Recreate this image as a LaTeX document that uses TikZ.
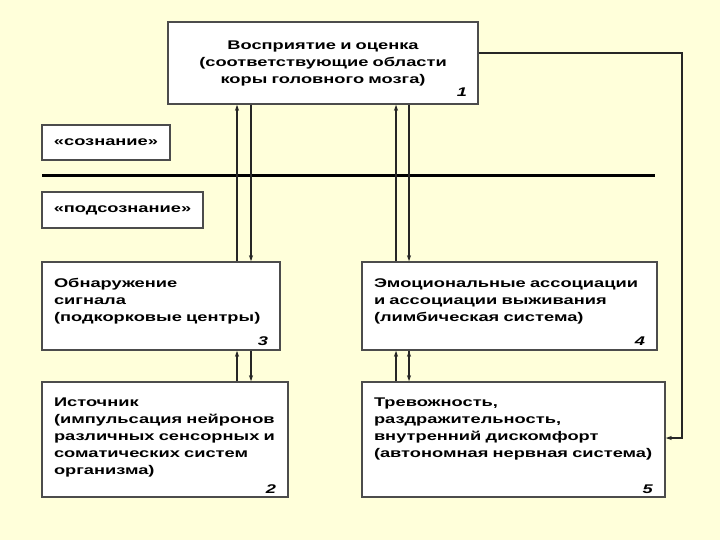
\documentclass[tikz,border=0pt]{standalone}
\usepackage{fontspec}
\setmainfont{Liberation Sans}[FakeStretch=1.45]
\usetikzlibrary{arrows.meta}
\definecolor{paper}{HTML}{FFFFDA}

\begin{document}
\begin{tikzpicture}[x=1pt, y=-1pt]
        \tikzset{
        lvl box/.style={rectangle,draw=black!70,line width=1.5pt,fill=white,inner xsep=0pt,inner ysep=3pt,font=\bfseries\fontsize{12.6}{17}\selectfont,align=left,execute at begin node=\rule{0pt}{21pt}},
        tag box/.style={rectangle,draw=black!70,line width=1.5pt,fill=white,font=\bfseries\fontsize{12.6}{17}\selectfont},
        link/.style={-{Stealth[length=6pt,width=4pt]},line width=1.2pt,draw=black!85}
        }
        \fill[paper] (0,0) rectangle (720,540);
        \useasboundingbox (0,0) rectangle (720,540);

        \node[lvl box, align=center, minimum width=310pt, minimum height=82pt, text width=288pt] (1) at (323,63)
            {Восприятие и оценка\\(соответствующие области\\коры головного мозга)\\[-4pt]\hskip0pt plus1filll\textit{1}};
        \node[tag box, minimum width=128pt, minimum height=35pt] (c) at (106,142.5) {«сознание»};
        \node[tag box, minimum width=161pt, minimum height=36pt] (pc) at (122.5,210) {«подсознание»};
        \node[lvl box, minimum width=238pt, minimum height=88pt, text width=214pt] (3) at (161,306)
            {Обнаружение\\сигнала\\(подкорковые центры)\\[7pt]\hskip0pt plus1filll\textit{3}};
        \node[lvl box, minimum width=295pt, minimum height=88pt, text width=271pt] (4) at (509.5,306)
            {Эмоциональные ассоциации\\и ассоциации выживания\\(лимбическая система)\\[7pt]\hskip0pt plus1filll\textit{4}};
        \node[lvl box, minimum width=246pt, minimum height=115pt, text width=222pt] (2) at (165,439.5)
            {Источник\\(импульсация нейронов\\различных сенсорных и\\соматических систем\\организма)\\[2pt]\hskip0pt plus1filll\textit{2}};
        \node[lvl box, minimum width=303pt, minimum height=115pt, text width=279pt] (5) at (513.5,439.5)
            {Тревожность,\\раздражительность,\\внутренний дискомфорт\\(автономная нервная система)\\[19pt]\hskip0pt plus1filll\textit{5}};
        \coordinate (bend) at (682,438);

        % border between the two levels
        \draw[line width=3pt] (42,176) -- (655,176);

        \path[link]
        (3.north -| 237,0) edge (1.south -| 237,0)
        (1.south -| 251,0) edge (3.north -| 251,0)
        (4.north -| 396,0) edge (1.south -| 396,0)
        (1.south -| 409,0) edge (4.north -| 409,0)
        (2.north -| 237,0) edge (3.south -| 237,0)
        (3.south -| 251,0) edge (2.north -| 251,0)
        (5.north -| 396,0) edge (4.south -| 396,0)
        (4.south -| 409,0) edge (5.north -| 409,0)
        ;
        \draw[link] (1.east |- 0,53) -| (bend) -- (5.east |- bend);
    \end{tikzpicture}
\end{document}
